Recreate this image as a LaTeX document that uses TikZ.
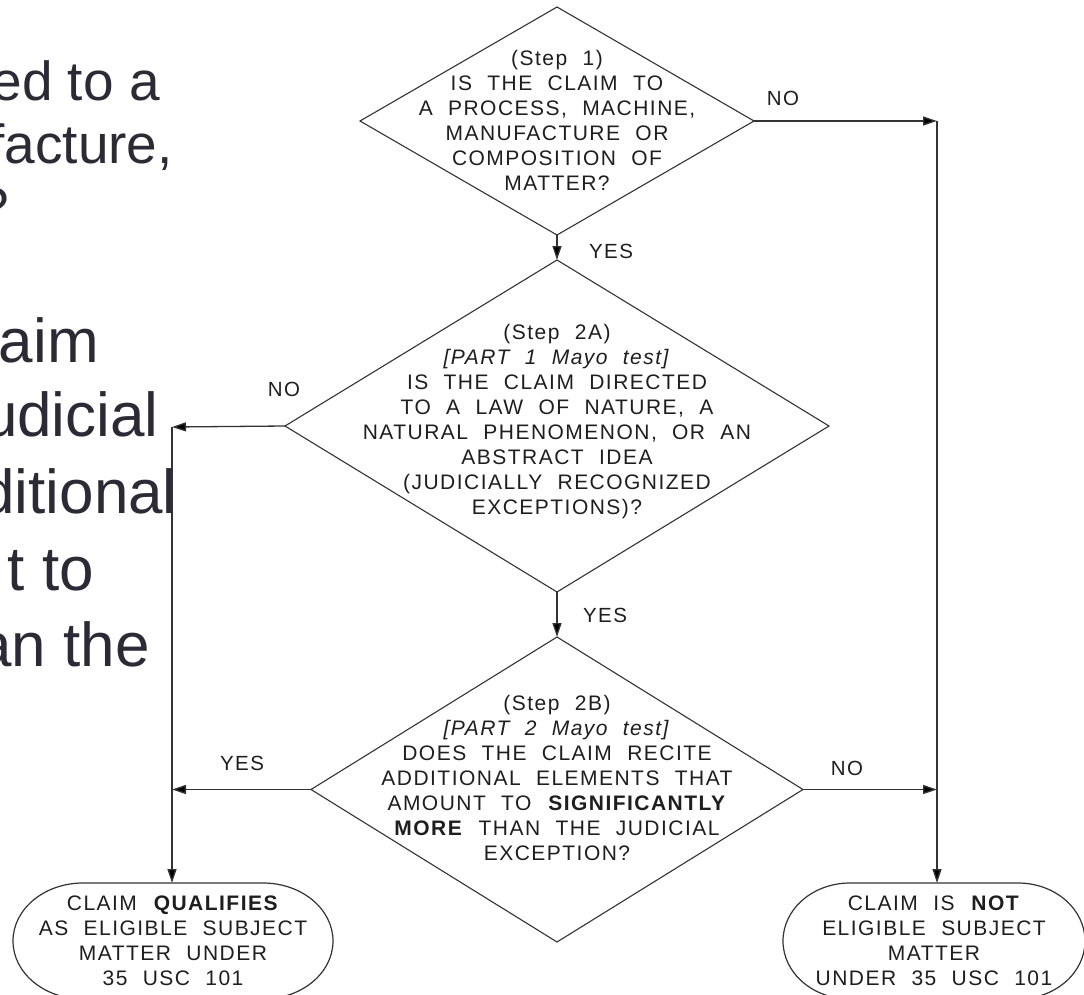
\documentclass[tikz,border=0pt]{standalone}
\usepackage{fontspec}
\setmainfont{Liberation Sans}
\newfontfamily\flowfont[LetterSpace=7,WordSpace=2.1]{Liberation Sans}
\usetikzlibrary{shapes.geometric,arrows.meta}
\definecolor{slidetext}{HTML}{2B2B36}
\definecolor{flowline}{HTML}{333333}
\definecolor{flowtext}{HTML}{1E1E1E}
\begin{document}
\begin{tikzpicture}[x=1pt,y=1pt,
  dia/.style={diamond, draw=flowline, line width=1.1pt, inner sep=0pt, outer sep=0pt},
  qtext/.style={align=center, font=\flowfont\fontsize{21}{25}\selectfont, text=flowtext, inner sep=0pt},
  lbl/.style={font=\flowfont\fontsize{20.5}{24}\selectfont, text=flowtext, inner sep=0pt},
  arr/.style={draw=flowline, line width=1.3pt, -{Triangle[length=14pt,width=9pt,fill=black]}},
  termbox/.style={rectangle, inner sep=0pt, outer sep=0pt, minimum height=116pt, align=center, font=\flowfont\fontsize{21}{25}\selectfont, text=flowtext},
  termline/.style={draw=flowline, line width=1.2pt},
  bgup/.style={font=\fontsize{55}{64}\selectfont, text=slidetext, inner sep=0pt, anchor=base east},
  bglow/.style={font=\fontsize{62}{76}\selectfont, text=slidetext, inner sep=0pt, anchor=base east}
]
\useasboundingbox (0,0) rectangle (1084,-995);
\clip (0,0) rectangle (1084,-995);

% background slide text (cut off at the left edge, as in the reference)
\node[bgup] (s1) at (160,-101) {ed to a};
\node[bgup] (s2) at (173,-164) {facture,};
\node[bgup] (s3) at (9,-226) {?};
\node[bglow] (s4) at (99,-362) {aim};
\node[bglow] (s5) at (159,-436) {udicial};
\node[bglow] (s6) at (177,-513) {ditional};
\node[bglow] (s7) at (94,-590) {t to};
\node[bglow] (s8) at (150,-666) {an the};

% decision diamonds
\node[dia, minimum width=394pt, minimum height=228pt] (d1) at (557,-121) {};
\node[dia, minimum width=544pt, minimum height=332pt] (d2) at (557,-426) {};
\node[dia, minimum width=492pt, minimum height=305pt] (d3) at (557,-789.5) {};

\node[qtext] (t1) at (557,-120) {(Step 1)\\IS THE CLAIM TO\\A PROCESS, MACHINE,\\MANUFACTURE OR\\COMPOSITION OF\\MATTER?};
\node[qtext] (t2) at (557,-422) {(Step 2A)\\\textit{[PART 1 Mayo test]}\\IS THE CLAIM DIRECTED\\TO A LAW OF NATURE, A\\NATURAL PHENOMENON, OR AN\\ABSTRACT IDEA\\(JUDICIALLY RECOGNIZED\\EXCEPTIONS)?};
\node[qtext] (t3) at (557,-778) {(Step 2B)\\\textit{[PART 2 Mayo test]}\\DOES THE CLAIM RECITE\\ADDITIONAL ELEMENTS THAT\\AMOUNT TO \textbf{SIGNIFICANTLY}\\\textbf{MORE} THAN THE JUDICIAL\\EXCEPTION?};

% terminals
\node[termbox, minimum width=320pt] (q) at (173,-941) {CLAIM \textbf{QUALIFIES}\\AS ELIGIBLE SUBJECT\\MATTER UNDER\\35 USC 101};
\node[termbox, minimum width=302pt] (nq) at (934,-941) {CLAIM IS \textbf{NOT}\\ELIGIBLE SUBJECT\\MATTER\\UNDER 35 USC 101};
\draw[termline] ([xshift=70pt]q.north west) -- ([xshift=-70pt]q.north east)
  arc[start angle=90,end angle=-90,x radius=70pt,y radius=58pt]
  -- ([xshift=70pt]q.south west)
  arc[start angle=270,end angle=90,x radius=70pt,y radius=58pt] -- cycle;
\draw[termline] ([xshift=67pt]nq.north west) -- ([xshift=-67pt]nq.north east)
  arc[start angle=90,end angle=-90,x radius=67pt,y radius=58pt]
  -- ([xshift=67pt]nq.south west)
  arc[start angle=270,end angle=90,x radius=67pt,y radius=58pt] -- cycle;

% junction points
\coordinate (c1) at (937,-121);
\coordinate (c2) at (172,-427);
\coordinate (c3) at (937,-789.5);
\coordinate (c4) at (172,-789.5);

% connectors
\draw[arr] (d1.south) -- (d2.north);
\draw[arr] (d2.south) -- (d3.north);
\draw[arr] (d1.east) -- (c1);
\draw[arr] (c1) -- (c1 |- nq.north);
\draw[arr] (d3.east) -- (c3);
\draw[arr] (d2.west) -- (c2);
\draw[arr] (c2) -- (c2 |- q.north);
\draw[arr] (d3.west) -- (c4);

% branch labels
\node[lbl] (l1) at (783,-98) {NO};
\node[lbl] (l2) at (611,-251) {YES};
\node[lbl] (l3) at (284,-389) {NO};
\node[lbl] (l4) at (605,-615) {YES};
\node[lbl] (l5) at (242,-763) {YES};
\node[lbl] (l6) at (847,-768) {NO};
\end{tikzpicture}
\end{document}
